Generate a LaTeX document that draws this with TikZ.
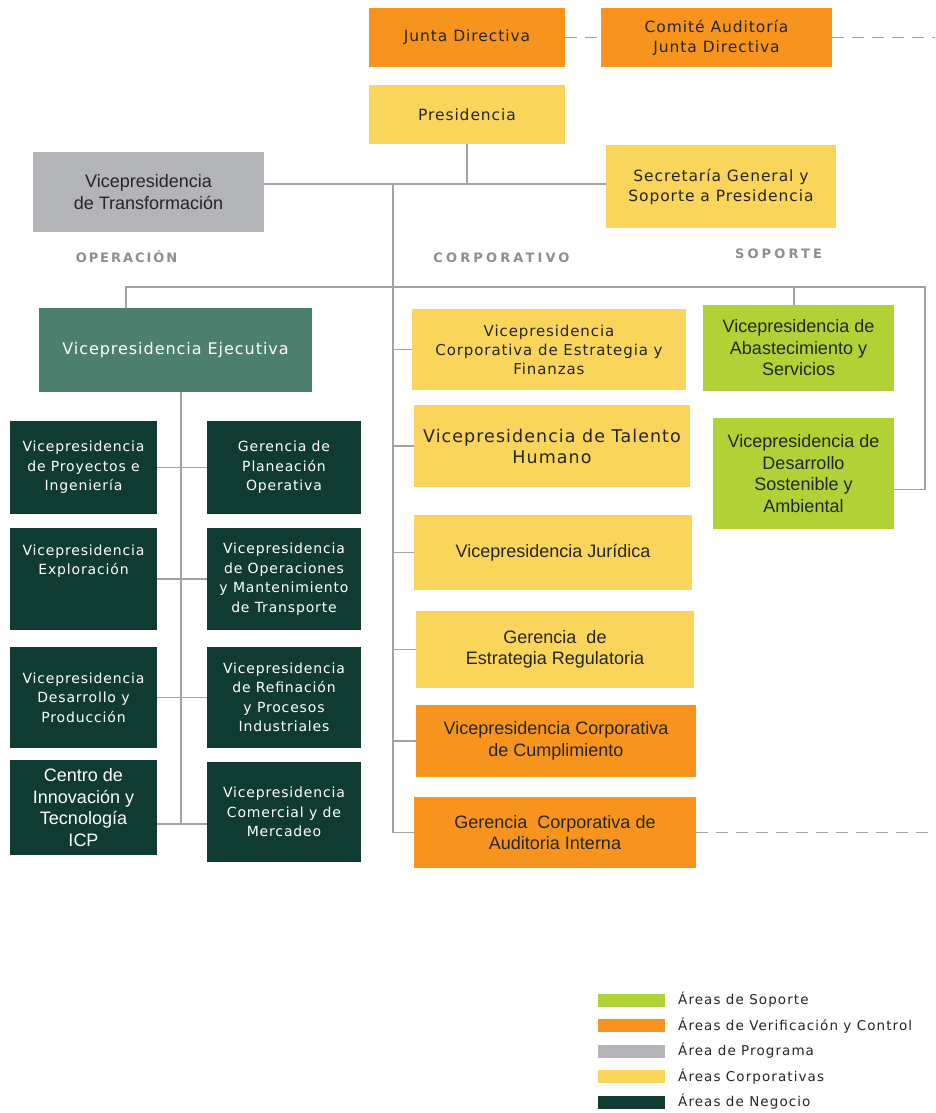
\documentclass[tikz,border=0pt]{standalone}
\usepackage{fontspec}
\setmainfont{DejaVu Sans}
\newfontfamily\verd[LetterSpace=6]{DejaVu Sans}
\newfontfamily\legf[LetterSpace=8]{DejaVu Sans}
\newfontfamily\lblf[LetterSpace=24]{DejaVu Sans}
\newfontfamily\lblnarrow[LetterSpace=15]{DejaVu Sans}
\newfontfamily\arialf{Liberation Sans}
\usepackage{tikz}
\definecolor{verif}{HTML}{F7941E}
\definecolor{corpo}{HTML}{FAD55B}
\definecolor{progr}{HTML}{B2B4B7}
\definecolor{ejecu}{HTML}{4D7F6E}
\definecolor{negoc}{HTML}{103B32}
\definecolor{sopor}{HTML}{B0D236}
\definecolor{ink}{HTML}{262626}
\definecolor{wire}{HTML}{A2A2A2}
\definecolor{lbl}{HTML}{8E8E8E}

\begin{document}
\begin{tikzpicture}[x=1pt, y=-1pt,
  box/.style={inner sep=0pt, align=center, text=ink},
  vtxt/.style={font=\verd\fontsize{14}{19.5}\selectfont},
  toptxt/.style={font=\verd\fontsize{15.5}{20}\selectfont},
  atxt/.style={font=\arialf\fontsize{18}{21.5}\selectfont},
  verifbox/.style={box, fill=verif},
  corpbox/.style={box, fill=corpo},
  progbox/.style={box, fill=progr},
  execbox/.style={box, fill=ejecu, text=white},
  bizbox/.style={box, fill=negoc, text=white},
  suppbox/.style={box, fill=sopor},
  conn/.style={draw=wire, line width=1.6pt},
  linkdash/.style={draw=wire, line width=1.6pt, dash pattern=on 12pt off 8pt},
  area/.style={font=\lblf\bfseries\fontsize{13}{15}\selectfont, text=lbl, inner sep=0pt},
  swatch/.style={fill=#1, minimum width=67pt, minimum height=13pt, inner sep=0pt},
  legtext/.style={font=\legf\fontsize{13.5}{16}\selectfont, text=ink, anchor=west, inner sep=0pt}]
  \useasboundingbox[fill=white] (0,0) rectangle (935,1113);

  % top of the chart
  \node[verifbox, toptxt, minimum width=196pt, minimum height=59pt] (junta) at (467,37.5) {Junta Directiva};
  \node[verifbox, toptxt, minimum width=231pt, minimum height=59pt] (comite) at (716.5,37.5) {Comité Auditoría\\Junta Directiva};
  \node[corpbox, toptxt, minimum width=196pt, minimum height=59pt] (pres) at (467,114.5) {Presidencia};
  \node[corpbox, toptxt, minimum width=230pt, minimum height=83pt] (secre) at (721,186.5) {Secretaría General y\\Soporte a Presidencia};
  \node[progbox, atxt, minimum width=231pt, minimum height=80pt] (transf) at (148.5,192) {Vicepresidencia\\de Transformación};
  \coordinate (rim) at (935,0);
  \coordinate (hub) at (393,184);

  % area headings
  \node[area, font=\lblnarrow\bfseries\fontsize{13}{15}\selectfont] (hop) at (126.5,256.5) {OPERACIÓN};
  \node[area] (hcorp) at (501.5,257.5) {CORPORATIVO};
  \node[area] (hsop) at (778.5,253.5) {SOPORTE};

  % operacion
  \node[execbox, font=\verd\fontsize{16}{19}\selectfont, minimum width=273pt, minimum height=84pt] (ejec) at (175.5,350) {Vicepresidencia Ejecutiva};
  \node[bizbox, vtxt, minimum width=147pt, minimum height=93pt] (vpi) at (83.5,467.5) {Vicepresidencia\\de Proyectos e\\Ingeniería};
  \node[bizbox, vtxt, minimum width=154pt, minimum height=93pt] (gpo) at (284,467.5) {Gerencia de\\Planeación\\Operativa};
  \node[bizbox, vtxt, minimum width=147pt, minimum height=102pt] (vex) at (83.5,579) {Vicepresidencia\\Exploración\\~\\~};
  \node[bizbox, vtxt, minimum width=154pt, minimum height=102pt] (vom) at (284,579) {Vicepresidencia\\de Operaciones\\y Mantenimiento\\de Transporte};
  \node[bizbox, vtxt, minimum width=147pt, minimum height=101pt] (vdp) at (83.5,697.5) {Vicepresidencia\\Desarrollo y\\Producción};
  \node[bizbox, vtxt, minimum width=154pt, minimum height=101pt] (vrp) at (284,697.5) {Vicepresidencia\\de Refinación\\y Procesos\\Industriales};
  \node[bizbox, atxt, minimum width=147pt, minimum height=95pt] (icp) at (83.5,807.5) {Centro de\\Innovación y\\Tecnología\\ICP};
  \node[bizbox, vtxt, minimum width=154pt, minimum height=100pt] (vcm) at (284,812) {Vicepresidencia\\Comercial y de\\Mercadeo};
  \coordinate (optop) at (181,392);
  \coordinate (tie4) at (181,824);

  % corporativo
  \node[corpbox, font=\verd\fontsize{15}{19}\selectfont, minimum width=274pt, minimum height=81pt] (estr) at (549,349.5) {Vicepresidencia\\Corporativa de Estrategia y\\Finanzas};
  \node[corpbox, font=\verd\fontsize{17.5}{21}\selectfont, minimum width=276pt, minimum height=82pt] (talento) at (552,446) {Vicepresidencia de Talento\\Humano};
  \node[corpbox, atxt, minimum width=278pt, minimum height=75pt] (juridica) at (553,552.5) {Vicepresidencia Jurídica};
  \node[corpbox, atxt, minimum width=278pt, minimum height=77pt] (regul) at (555,649.5) {Gerencia \ de\\Estrategia Regulatoria};
  \node[verifbox, atxt, minimum width=280pt, minimum height=72pt] (cumpl) at (556,741) {Vicepresidencia Corporativa\\de Cumplimiento};
  \node[verifbox, atxt, minimum width=282pt, minimum height=71pt] (audit) at (555,832.5) {Gerencia \ Corporativa de\\Auditoria Interna};

  % soporte
  \node[suppbox, atxt, minimum width=191pt, minimum height=86pt] (abast) at (798.5,348) {Vicepresidencia de\\Abastecimiento y\\Servicios};
  \node[suppbox, atxt, minimum width=181pt, minimum height=111pt] (sosten) at (803.5,473.5) {Vicepresidencia de\\Desarrollo\\Sostenible y\\Ambiental};
  \coordinate (opl) at (126,287);
  \coordinate (opr) at (925,287);

  % lines
  \draw[linkdash] (junta.east) -- (comite.west);
  \draw[linkdash] (comite.east) -- (comite.east -| rim);
  \draw[linkdash] (audit.east) -- (audit.east -| rim);
  \draw[conn] (pres.south) -- (pres.south |- hub);
  \draw[conn] (transf.east |- hub) -- (secre.west |- hub);
  \draw[conn] (hub) |- (audit.west);
  \foreach \n in {estr,talento,juridica,regul,cumpl}
    \draw[conn] (hub |- \n.west) -- (\n.west);
  \draw[conn] (opl |- ejec.north) -- (opl) -- (opr) |- ([yshift=-16pt]sosten.east);
  \draw[conn] (abast.north -| 794,0) -- (794,287);
  \draw[conn] (optop) -- (tie4);
  \foreach \a/\b in {vpi/gpo,vex/vom,vdp/vrp}
    \draw[conn] (\a.east) -- (\a.east -| \b.west);
  \draw[conn] (tie4 -| icp.east) -- (tie4 -| vcm.west);

  % legend
  \foreach \c/\t [count=\i] in {sopor/Áreas de Soporte, verif/Áreas de Verificación y Control,
      progr/Área de Programa, corpo/Áreas Corporativas, negoc/Áreas de Negocio} {
    \node[swatch=\c] (sw\i) at (631.5,974.5+25.5*\i) {};
    \node[legtext] (lg\i) at (678,974.5+25.5*\i) {\t};
  }
\end{tikzpicture}
\end{document}
